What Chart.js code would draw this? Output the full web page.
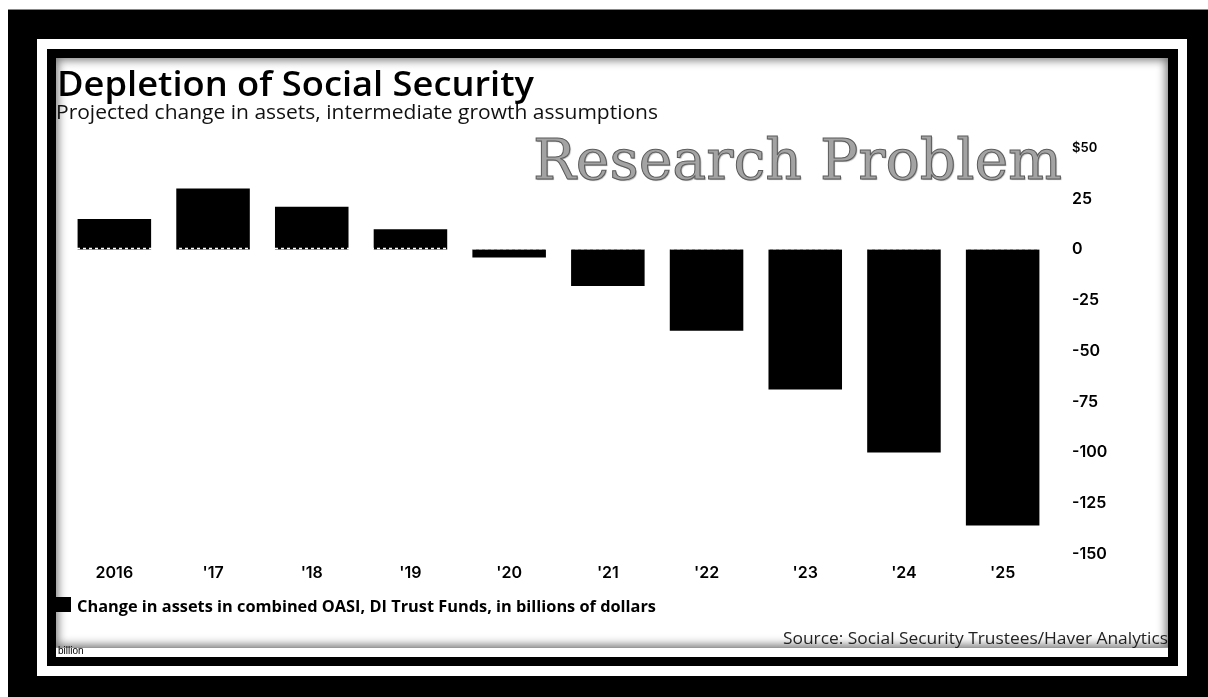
<!DOCTYPE html>
<html>
<head>
<meta charset="utf-8">
<script src="https://cdn.jsdelivr.net/npm/chart.js@4.4.1/dist/chart.umd.min.js"></script>
<style>
  html, body { margin: 0; padding: 0; }
  body { width: 1208px; height: 697px; background: #000; position: relative; overflow: hidden; }
  .abs { position: absolute; }
  #stripTop { left: 0; top: 0; width: 1208px; height: 10px; background: #fff; border-bottom: 1px solid #888; box-sizing: border-box; }
  #stripLeft { left: 0; top: 0; width: 8px; height: 697px; background: #fff; }
  #frameWhite { left: 37px; top: 39px; width: 1150px; height: 637px; background: #fff; }
  #frameBlack { left: 47px; top: 49px; width: 1131px; height: 617px; background: #000; }
  #panel { left: 56px; top: 58px; width: 1112px; height: 599px; background: #fff; overflow: hidden; }
  #shade { left: 56px; top: 58px; width: 1112px; height: 589px; box-shadow: inset 0 0 10px 2px rgba(0,0,0,0.55); pointer-events: none; }
  #foot { left: 56px; top: 647px; width: 1112px; height: 10px; background: #fff; border-top: 1px solid #999; box-sizing: border-box; }
  .fit { white-space: nowrap; line-height: 1; display: inline-block; transform-origin: left top; }
  #title { left: 57px; top: 59px; font: 600 35px "Open Sans", sans-serif; color: #000; }
  #subtitle { left: 56px; top: 98px; font: 400 20px "Open Sans", sans-serif; color: #111; }
  #mark { left: 533px; top: 127px; font: 400 56px "DejaVu Serif", serif; color: #a3a3a3;
          -webkit-text-stroke: 1px #5c5c5c; text-shadow: 1px 1px 1px rgba(0,0,0,0.35); }
  #legendBox { left: 56px; top: 597px; width: 15px; height: 15px; background: #000; }
  #legendText { left: 77px; top: 595px; font: 700 16px "Open Sans", sans-serif; color: #000; }
  #source { left: 783px; top: 626px; font: 400 17px "Open Sans", sans-serif; color: #222; }
  #billion { left: 58px; top: 646px; font: 400 10px "Liberation Sans", Arial, sans-serif; color: #000; line-height: 10px; }
  canvas { position: absolute; left: 56px; top: 58px; }
</style>
</head>
<body>
<div class="abs" id="stripTop"></div>
<div class="abs" id="stripLeft"></div>
<div class="abs" id="frameWhite"></div>
<div class="abs" id="frameBlack"></div>
<div class="abs" id="panel"></div>
<div class="abs" id="foot"></div>
<canvas id="chart" width="1112" height="589"></canvas>
<div class="abs" id="shade"></div>
<div class="abs fit" id="title" data-w="477">Depletion of Social Security</div>
<div class="abs fit" id="subtitle" data-w="602">Projected change in assets, intermediate growth assumptions</div>
<div class="abs fit" id="mark" data-w="529">Research Problem</div>
<div class="abs" id="legendBox"></div>
<div class="abs fit" id="legendText" data-w="579">Change in assets in combined OASI, DI Trust Funds, in billions of dollars</div>
<div class="abs fit" id="source" data-w="385">Source: Social Security Trustees/Haver Analytics</div>
<div class="abs" id="billion">billion</div>

<script>
// Year labels along the bottom axis
const years = ["2016", "'17", "'18", "'19", "'20", "'21", "'22", "'23", "'24", "'25"];
// Change in assets, combined OASI and DI trust funds, billions of dollars
const assetChange = [15, 30, 21, 10, -4, -18, -40, -69, -100, -136];
// Value axis
const yMin = -150;
const yMax = 50;
const yStep = 25;

// Stretch each text line horizontally to its set width
document.querySelectorAll('.fit').forEach(el => {
  const target = parseFloat(el.dataset.w);
  const w = el.getBoundingClientRect().width;
  if (w > 0) el.style.transform = 'scaleX(' + (target / w) + ')';
});

// Dashed white seam along the zero line, over the positive bars
const zeroSeam = {
  id: 'zeroSeam',
  afterDatasetsDraw(chart) {
    const { ctx, chartArea, scales } = chart;
    const y = scales.y.getPixelForValue(0) - 1;
    ctx.save();
    ctx.strokeStyle = '#fff';
    ctx.lineWidth = 1.5;
    ctx.setLineDash([3, 3]);
    ctx.beginPath();
    ctx.moveTo(chartArea.left, y);
    ctx.lineTo(chartArea.right, y);
    ctx.stroke();
    ctx.restore();
  }
};

const tickFont = { family: 'Inter, "Open Sans", sans-serif', weight: '600', size: 16 };

new Chart(document.getElementById('chart'), {
  type: 'bar',
  data: {
    labels: years,
    datasets: [{
      label: 'Change in assets in combined OASI, DI Trust Funds, in billions of dollars',
      data: assetChange,
      backgroundColor: '#000',
      borderWidth: 0,
      categoryPercentage: 1,
      barPercentage: 0.745
    }]
  },
  options: {
    responsive: false,
    animation: false,
    devicePixelRatio: 1,
    layout: { padding: { left: 9, top: 90, right: 0, bottom: 0 } },
    plugins: { legend: { display: false }, tooltip: { enabled: false } },
    scales: {
      x: {
        grid: { display: false, drawTicks: false },
        border: { display: false },
        ticks: { color: '#000', font: tickFont, padding: 10, maxRotation: 0 },
        afterFit(scale) { scale.height = 93; }
      },
      y: {
        position: 'right',
        min: yMin,
        max: yMax,
        grid: { display: false, drawTicks: false },
        border: { display: false },
        ticks: {
          stepSize: yStep,
          color: '#000',
          padding: 20,
          font: c => (c.tick && c.tick.value === yMax) ? { ...tickFont, size: 13 } : tickFont,
          callback: v => v === yMax ? '$' + v : String(v)
        },
        afterFit(scale) { scale.width = 116; }
      }
    }
  },
  plugins: [zeroSeam]
});
</script>
</body>
</html>
